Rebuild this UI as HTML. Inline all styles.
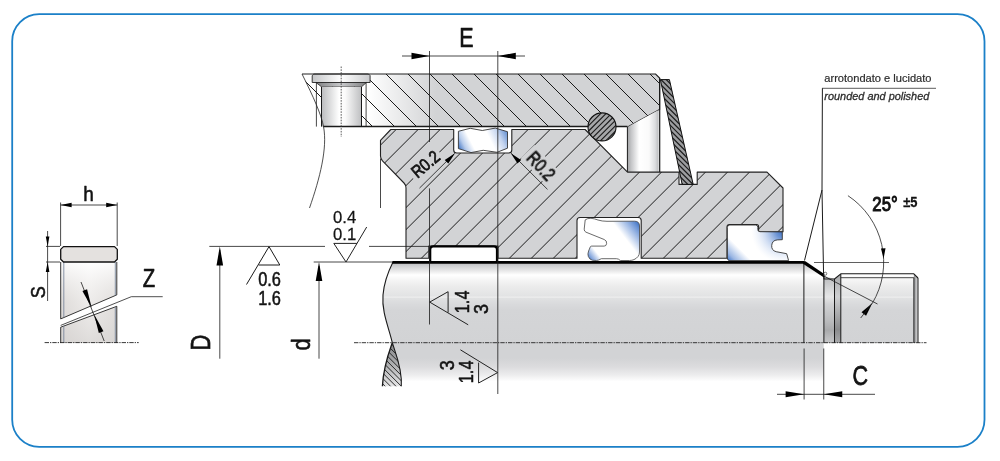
<!DOCTYPE html>
<html lang="it"><head><meta charset="utf-8"><title>Guide ring housing</title>
<style>
html,body{margin:0;padding:0;background:#fff;}
body{width:1000px;height:461px;overflow:hidden;font-family:"Liberation Sans", "DejaVu Sans", sans-serif;}
svg{display:block;}
</style></head><body>
<svg width="1000" height="461" viewBox="0 0 1000 461" font-family='&quot;Liberation Sans&quot;, &quot;DejaVu Sans&quot;, sans-serif'>
<defs>
<linearGradient id="gHouse" gradientUnits="userSpaceOnUse" x1="368" y1="0" x2="436" y2="0">
 <stop offset="0" stop-color="#ffffff"/><stop offset="1" stop-color="#d2d3d5"/></linearGradient>
<linearGradient id="gShaft" gradientUnits="userSpaceOnUse" x1="0" y1="264" x2="0" y2="382">
 <stop offset="0" stop-color="#c2c3c5"/>
 <stop offset="0.017" stop-color="#cfd0d2"/>
 <stop offset="0.05" stop-color="#e3e3e4"/>
 <stop offset="0.093" stop-color="#ffffff"/>
 <stop offset="0.136" stop-color="#f5f5f5"/>
 <stop offset="0.186" stop-color="#ececec"/>
 <stop offset="0.271" stop-color="#e2e3e4"/>
 <stop offset="0.281" stop-color="#eeeeee"/>
 <stop offset="0.292" stop-color="#e0e1e2"/>
 <stop offset="0.34" stop-color="#d9dadc"/>
 <stop offset="0.39" stop-color="#d4d5d7"/>
 <stop offset="0.67" stop-color="#d2d3d5"/>
 <stop offset="0.797" stop-color="#d2d3d5"/>
 <stop offset="0.873" stop-color="#dcdcde"/>
 <stop offset="0.938" stop-color="#ececed"/>
 <stop offset="0.996" stop-color="#ffffff"/></linearGradient>
<linearGradient id="gLens" gradientUnits="userSpaceOnUse" x1="0" y1="343" x2="0" y2="386">
 <stop offset="0" stop-color="#858688"/><stop offset="0.45" stop-color="#a9aaac"/><stop offset="1" stop-color="#e4e4e5"/></linearGradient>
<linearGradient id="gGroove" gradientUnits="userSpaceOnUse" x1="0" y1="279" x2="0" y2="343">
 <stop offset="0" stop-color="#bfc0c2"/><stop offset="0.17" stop-color="#d8d9da"/><stop offset="0.28" stop-color="#e6e6e7"/><stop offset="0.4" stop-color="#d0d1d3"/><stop offset="0.64" stop-color="#bcbdbf"/><stop offset="0.8" stop-color="#a9aaac"/><stop offset="0.92" stop-color="#bcbdbf"/><stop offset="1" stop-color="#c6c7c9"/></linearGradient>
<linearGradient id="gGroove2" gradientUnits="userSpaceOnUse" x1="0" y1="275" x2="0" y2="343">
 <stop offset="0" stop-color="#a9aaac"/><stop offset="0.32" stop-color="#cfd0d2"/><stop offset="0.5" stop-color="#b4b5b7"/><stop offset="0.8" stop-color="#8a8b8d"/><stop offset="1" stop-color="#a9aaac"/></linearGradient>
<linearGradient id="gThrEnd" gradientUnits="userSpaceOnUse" x1="913.85" y1="0" x2="918" y2="0">
 <stop offset="0" stop-color="#8a8b8d"/><stop offset="1" stop-color="#e2e2e3"/></linearGradient>
<linearGradient id="gBore" gradientUnits="userSpaceOnUse" x1="627.5" y1="0" x2="660" y2="0">
 <stop offset="0" stop-color="#a3a4a6"/><stop offset="0.12" stop-color="#c6c7c9"/><stop offset="0.36" stop-color="#ffffff"/><stop offset="0.66" stop-color="#fafafa"/><stop offset="0.85" stop-color="#dcdddf"/><stop offset="0.96" stop-color="#b9babc"/></linearGradient>
<linearGradient id="gHole" gradientUnits="userSpaceOnUse" x1="321" y1="0" x2="361.2" y2="0">
 <stop offset="0" stop-color="#b9babc"/><stop offset="0.45" stop-color="#ffffff"/><stop offset="0.6" stop-color="#fbfbfb"/><stop offset="1" stop-color="#bfc0c2"/></linearGradient>
<linearGradient id="gCap" gradientUnits="userSpaceOnUse" x1="312" y1="0" x2="370.5" y2="0">
 <stop offset="0" stop-color="#c4c5c7"/><stop offset="0.5" stop-color="#ffffff"/><stop offset="1" stop-color="#c9cacc"/></linearGradient>
<linearGradient id="gRing" gradientUnits="userSpaceOnUse" x1="60.5" y1="0" x2="117.5" y2="0">
 <stop offset="0" stop-color="#d9d6d4"/><stop offset="0.5" stop-color="#ffffff"/><stop offset="1" stop-color="#dedbd9"/></linearGradient>
<linearGradient id="gRingV" gradientUnits="userSpaceOnUse" x1="0" y1="262" x2="0" y2="343">
 <stop offset="0" stop-color="#ffffff" stop-opacity="0.9"/><stop offset="0.5" stop-color="#e2dfdd" stop-opacity="0.6"/><stop offset="1" stop-color="#d6d3d1" stop-opacity="0.8"/></linearGradient>
<linearGradient id="gSeal" gradientUnits="userSpaceOnUse" x1="587" y1="262" x2="640.5" y2="220.5">
 <stop offset="0.03" stop-color="#3a6fc3"/><stop offset="0.1" stop-color="#8eade0"/><stop offset="0.2" stop-color="#ffffff"/><stop offset="0.66" stop-color="#ffffff"/><stop offset="0.8" stop-color="#a9c1e8"/><stop offset="0.9" stop-color="#6a93d5"/><stop offset="0.98" stop-color="#2f66bd"/></linearGradient>
<linearGradient id="gWiperA" gradientUnits="userSpaceOnUse" x1="727" y1="262" x2="740" y2="249">
 <stop offset="0.05" stop-color="#3a6fc3"/><stop offset="0.4" stop-color="#9db8e4"/><stop offset="1" stop-color="#ffffff"/></linearGradient>
<radialGradient id="gWiperB" gradientUnits="userSpaceOnUse" cx="784" cy="230.5" r="33">
 <stop offset="0" stop-color="#2f66bd" stop-opacity="1"/><stop offset="0.25" stop-color="#5d89d0" stop-opacity="0.9"/><stop offset="0.6" stop-color="#a9c1e8" stop-opacity="0.55"/><stop offset="1" stop-color="#dbe5f6" stop-opacity="0"/></radialGradient>
<linearGradient id="gTaper" gradientUnits="userSpaceOnUse" x1="316" y1="0" x2="366" y2="0">
 <stop offset="0" stop-color="#7f8082"/><stop offset="0.5" stop-color="#c9cacc"/><stop offset="1" stop-color="#808183"/></linearGradient>
<linearGradient id="gSeal2" gradientUnits="userSpaceOnUse" x1="458" y1="153" x2="508" y2="128">
 <stop offset="0.04" stop-color="#3b70c3"/><stop offset="0.16" stop-color="#b9cdec"/><stop offset="0.3" stop-color="#ffffff"/><stop offset="0.62" stop-color="#ffffff"/><stop offset="0.8" stop-color="#c4d4ef"/><stop offset="1" stop-color="#4c7fca"/></linearGradient>
<clipPath id="cHouse"><path d="M302,74 L655.6,74 L659.6,78 L659.6,109.5 L627.5,127 L323.6,127 C321.5,115 313.5,97 302,74 Z"/></clipPath>
<clipPath id="cGland"><path d="M390.8,129.5 L453.7,129.5 L453.7,150 Q453.7,153 456.7,153 L508.8,153 Q511.8,153 511.8,150 L511.8,129.5 L585.1,129.5 L627.5,172.1 L679,172.1 L679,184.4 L697.2,184.4 L697.2,172.1 L767,172.1 L783,188 L783,231.8 L758.6,231.8 L758.6,226.6 Q758.6,224.6 756.6,224.6 L729.5,224.6 Q727,224.6 727,227 L727,258.2 L641.2,258.2 L641.2,220.5 Q641.2,217.5 638.2,217.5 L580,217.5 Q577,217.5 577,220.5 L577,258.2 L498,258.2 L498,246 L428.8,246 L428.8,258.2 L406,258.2 L406,188 Q406,185 404,183 L382.5,160.8 Q380.5,158.75 380.5,156 L380.5,140.3 Z"/></clipPath>
<clipPath id="cOring"><circle cx="602" cy="126.9" r="14"/></clipPath>
<clipPath id="cPlate"><polygon points="660.4,79.6 669.4,79.6 693.2,184.4 682.2,184.4"/></clipPath>
<clipPath id="cLens"><path d="M392.3,342.7 C395,352 402.5,368 401.3,386.3 L382.4,386.3 C383.5,366 389,352 392.3,342.7 Z"/></clipPath>
</defs>
<rect width="1000" height="461" fill="#ffffff"/>
<rect x="12.2" y="14.2" width="972.3" height="432.6" rx="27" ry="27" fill="none" stroke="#1b80c8" stroke-width="1.8"/>
<path d="M393,262 L803.75,262 L823.9,276 L834.5,279 L840.8,273.8 L913.85,273.8 L918,278 L918,343 L392.3,343 C389,328 381.5,312 383,295 C384,283 389,270 393,262 Z" fill="url(#gShaft)"/>
<path d="M392.3,342.7 L823.75,342.7 L823.75,390 L401,390 L401.3,386.3 C402.5,368 395,352 392.3,342.7 Z" fill="url(#gShaft)"/>
<polygon points="823.9,276 823.9,343 834.5,343 834.5,279 " fill="url(#gGroove)"/>
<polygon points="834.5,279 840.8,273.9 840.8,343 834.5,343" fill="url(#gGroove2)"/>
<polygon points="913.85,274 918,278 918,343 913.85,343" fill="url(#gThrEnd)"/>
<path d="M392.3,342.7 C395,352 402.5,368 401.3,386.3 L382.4,386.3 C383.5,366 389,352 392.3,342.7 Z" fill="url(#gLens)"/>
<g clip-path="url(#cLens)" stroke="#1a1a1a" stroke-width="0.9">
<line x1="375" y1="327.5" x2="410" y2="362.5"/>
<line x1="375" y1="332.9" x2="410" y2="367.9"/>
<line x1="375" y1="338.3" x2="410" y2="373.3"/>
<line x1="375" y1="343.7" x2="410" y2="378.7"/>
<line x1="375" y1="349.1" x2="410" y2="384.1"/>
<line x1="375" y1="354.5" x2="410" y2="389.5"/>
<line x1="375" y1="359.9" x2="410" y2="394.9"/>
<line x1="375" y1="365.3" x2="410" y2="400.3"/>
<line x1="375" y1="370.7" x2="410" y2="405.7"/>
<line x1="375" y1="376.1" x2="410" y2="411.1"/>
<line x1="375" y1="381.5" x2="410" y2="416.5"/>
<line x1="375" y1="386.9" x2="410" y2="421.9"/>
<line x1="375" y1="392.3" x2="410" y2="427.3"/>
<line x1="375" y1="397.7" x2="410" y2="432.7"/>
<line x1="375" y1="403.1" x2="410" y2="438.1"/>
<line x1="375" y1="408.5" x2="410" y2="443.5"/>
</g>
<path d="M393,262 C389,270 384,283 383,295 C381.5,312 389,328 392.3,342.7 C395,352 402.5,368 401.3,386.3" fill="none" stroke="#1a1a1a" stroke-width="1.1"/>
<path d="M392.3,342.7 C389,352 383.5,366 382.4,386.3" fill="none" stroke="#1a1a1a" stroke-width="1.3"/>
<line x1="803.90" y1="264.00" x2="803.90" y2="343.00" stroke="#1a1a1a" stroke-width="1.0" />
<line x1="823.90" y1="276.00" x2="823.90" y2="343.00" stroke="#1a1a1a" stroke-width="1.0" />
<line x1="834.50" y1="279.00" x2="834.50" y2="343.00" stroke="#1a1a1a" stroke-width="1.0" />
<line x1="840.80" y1="274.00" x2="840.80" y2="343.00" stroke="#1a1a1a" stroke-width="1.0" />
<line x1="913.85" y1="277.60" x2="913.85" y2="343.00" stroke="#1a1a1a" stroke-width="0.9" />
<line x1="918.00" y1="278.00" x2="918.00" y2="343.00" stroke="#1a1a1a" stroke-width="1.0" />
<path d="M823.9,276 L823.9,279 L834.5,279 L840.8,273.8 L913.85,273.8 L918,278" fill="none" stroke="#1a1a1a" stroke-width="1.1" stroke-linejoin="round"/>
<line x1="840.80" y1="277.70" x2="913.85" y2="277.70" stroke="#333" stroke-width="0.9" />
<path d="M392.3,262.4 L803.9,262.4" fill="none" stroke="#000" stroke-width="2.8"/>
<polygon points="803,261 805.4,261.2 825,274.6 823.6,277.2 803,263.8" fill="#000"/>
<circle cx="825.3" cy="273.7" r="1.5" fill="#fff" stroke="#222" stroke-width="0.6"/>
<path d="M302,74 L655.6,74 L659.6,78 L659.6,109.5 L627.5,127 L323.6,127 C321.5,115 313.5,97 302,74 Z" fill="url(#gHouse)"/>
<g clip-path="url(#cHouse)" stroke="#1a1a1a" stroke-width="1.0">
<line x1="240.0" y1="60" x2="320.0" y2="140"/>
<line x1="262.0" y1="60" x2="342.0" y2="140"/>
<line x1="284.0" y1="60" x2="364.0" y2="140"/>
<line x1="306.0" y1="60" x2="386.0" y2="140"/>
<line x1="328.0" y1="60" x2="408.0" y2="140"/>
<line x1="350.0" y1="60" x2="430.0" y2="140"/>
<line x1="372.0" y1="60" x2="452.0" y2="140"/>
<line x1="394.0" y1="60" x2="474.0" y2="140"/>
<line x1="416.0" y1="60" x2="496.0" y2="140"/>
<line x1="438.0" y1="60" x2="518.0" y2="140"/>
<line x1="460.0" y1="60" x2="540.0" y2="140"/>
<line x1="482.0" y1="60" x2="562.0" y2="140"/>
<line x1="504.0" y1="60" x2="584.0" y2="140"/>
<line x1="526.0" y1="60" x2="606.0" y2="140"/>
<line x1="548.0" y1="60" x2="628.0" y2="140"/>
<line x1="570.0" y1="60" x2="650.0" y2="140"/>
<line x1="592.0" y1="60" x2="672.0" y2="140"/>
<line x1="614.0" y1="60" x2="694.0" y2="140"/>
<line x1="636.0" y1="60" x2="716.0" y2="140"/>
<line x1="658.0" y1="60" x2="738.0" y2="140"/>
<line x1="680.0" y1="60" x2="760.0" y2="140"/>
<line x1="702.0" y1="60" x2="782.0" y2="140"/>
<line x1="724.0" y1="60" x2="804.0" y2="140"/>
<line x1="746.0" y1="60" x2="826.0" y2="140"/>
<line x1="768.0" y1="60" x2="848.0" y2="140"/>
<line x1="790.0" y1="60" x2="870.0" y2="140"/>
</g>
<path d="M312.2,75.6 L313.8,74 L368.5,74 L370.1,75.6 L370.1,82.5 L312.2,82.5 Z" fill="url(#gCap)" stroke="#222" stroke-width="0.9"/>
<polygon points="316,82.5 366.4,82.5 361.5,86.8 321.5,86.8" fill="url(#gTaper)" stroke="#222" stroke-width="0.8"/>
<rect x="321.5" y="86.8" width="40" height="39.9" fill="url(#gHole)"/>
<line x1="316.40" y1="82.60" x2="316.40" y2="126.60" stroke="#1a1a1a" stroke-width="0.8" />
<line x1="366.10" y1="82.60" x2="366.10" y2="126.60" stroke="#1a1a1a" stroke-width="0.8" />
<line x1="321.50" y1="86.80" x2="321.50" y2="126.60" stroke="#1a1a1a" stroke-width="1.0" />
<line x1="361.50" y1="86.80" x2="361.50" y2="126.60" stroke="#1a1a1a" stroke-width="1.0" />
<g stroke="#1a1a1a" stroke-width="0.8">
</g>
<path d="M302,74 L655.6,74 L659.6,78 L659.6,109.5 L627.5,127" fill="none" stroke="#222" stroke-width="1.1"/>
<line x1="323.40" y1="126.60" x2="627.50" y2="126.60" stroke="#1a1a1a" stroke-width="1.5" />
<path d="M302,74 C313.5,97 321.5,115 323.6,127 C327.5,148 320,178 309.5,208" fill="none" stroke="#222" stroke-width="0.8"/>
<line x1="341.20" y1="66.50" x2="341.20" y2="137.00" stroke="#333" stroke-width="0.8" stroke-dasharray="1.6 1.2"/>
<polygon points="627.5,127 658.6,110 658.6,172.1 627.5,172.1" fill="url(#gBore)"/>
<line x1="627.40" y1="127.00" x2="627.40" y2="172.10" stroke="#1a1a1a" stroke-width="1.0" />
<line x1="659.70" y1="78.00" x2="659.70" y2="172.10" stroke="#1a1a1a" stroke-width="1.2" />
<path d="M390.8,129.5 L453.7,129.5 L453.7,150 Q453.7,153 456.7,153 L508.8,153 Q511.8,153 511.8,150 L511.8,129.5 L585.1,129.5 L627.5,172.1 L679,172.1 L679,184.4 L697.2,184.4 L697.2,172.1 L767,172.1 L783,188 L783,231.8 L758.6,231.8 L758.6,226.6 Q758.6,224.6 756.6,224.6 L729.5,224.6 Q727,224.6 727,227 L727,258.2 L641.2,258.2 L641.2,220.5 Q641.2,217.5 638.2,217.5 L580,217.5 Q577,217.5 577,220.5 L577,258.2 L498,258.2 L498,246 L428.8,246 L428.8,258.2 L406,258.2 L406,188 Q406,185 404,183 L382.5,160.8 Q380.5,158.75 380.5,156 L380.5,140.3 Z" fill="#d2d3d5"/>
<g clip-path="url(#cGland)" stroke="#1a1a1a" stroke-width="1.0">
<line x1="227.6" y1="100" x2="47.6" y2="280"/>
<line x1="249.6" y1="100" x2="69.6" y2="280"/>
<line x1="271.6" y1="100" x2="91.6" y2="280"/>
<line x1="293.6" y1="100" x2="113.6" y2="280"/>
<line x1="315.6" y1="100" x2="135.6" y2="280"/>
<line x1="337.6" y1="100" x2="157.6" y2="280"/>
<line x1="359.6" y1="100" x2="179.6" y2="280"/>
<line x1="381.6" y1="100" x2="201.6" y2="280"/>
<line x1="403.6" y1="100" x2="223.6" y2="280"/>
<line x1="425.6" y1="100" x2="245.6" y2="280"/>
<line x1="447.6" y1="100" x2="267.6" y2="280"/>
<line x1="469.6" y1="100" x2="289.6" y2="280"/>
<line x1="491.6" y1="100" x2="311.6" y2="280"/>
<line x1="513.6" y1="100" x2="333.6" y2="280"/>
<line x1="535.6" y1="100" x2="355.6" y2="280"/>
<line x1="557.6" y1="100" x2="377.6" y2="280"/>
<line x1="579.6" y1="100" x2="399.6" y2="280"/>
<line x1="601.6" y1="100" x2="421.6" y2="280"/>
<line x1="623.6" y1="100" x2="443.6" y2="280"/>
<line x1="645.6" y1="100" x2="465.6" y2="280"/>
<line x1="667.6" y1="100" x2="487.6" y2="280"/>
<line x1="689.6" y1="100" x2="509.6" y2="280"/>
<line x1="711.6" y1="100" x2="531.6" y2="280"/>
<line x1="733.6" y1="100" x2="553.6" y2="280"/>
<line x1="755.6" y1="100" x2="575.6" y2="280"/>
<line x1="777.6" y1="100" x2="597.6" y2="280"/>
<line x1="799.6" y1="100" x2="619.6" y2="280"/>
<line x1="821.6" y1="100" x2="641.6" y2="280"/>
<line x1="843.6" y1="100" x2="663.6" y2="280"/>
<line x1="865.6" y1="100" x2="685.6" y2="280"/>
<line x1="887.6" y1="100" x2="707.6" y2="280"/>
<line x1="909.6" y1="100" x2="729.6" y2="280"/>
</g>
<path d="M390.8,129.5 L453.7,129.5 L453.7,150 Q453.7,153 456.7,153 L508.8,153 Q511.8,153 511.8,150 L511.8,129.5 L585.1,129.5 L627.5,172.1 L679,172.1 L679,184.4 L697.2,184.4 L697.2,172.1 L767,172.1 L783,188 L783,231.8 L758.6,231.8 L758.6,226.6 Q758.6,224.6 756.6,224.6 L729.5,224.6 Q727,224.6 727,227 L727,258.2 L641.2,258.2 L641.2,220.5 Q641.2,217.5 638.2,217.5 L580,217.5 Q577,217.5 577,220.5 L577,258.2 L498,258.2 L498,246 L428.8,246 L428.8,258.2 L406,258.2 L406,188 Q406,185 404,183 L382.5,160.8 Q380.5,158.75 380.5,156 L380.5,140.3 Z" fill="none" stroke="#222" stroke-width="1.1" stroke-linejoin="round"/>
<path d="M458.4,131.3 L470.2,128.3 L482.3,130.5 L495.3,128.1 L507.5,131.7 L507.5,148.2 L497.1,152.3 L483.2,150.3 L471,152.6 L458.4,148.6 Z" fill="url(#gSeal2)" stroke="#333" stroke-width="0.9" stroke-linejoin="round"/>
<path d="M430.2,262 L430.2,249.4 Q430.2,246.4 433.2,246.4 L494,246.4 Q497,246.4 497,249.4 L497,262 Z" fill="#ffffff" stroke="#000" stroke-width="2.2"/>
<path d="M585.2,219.9 Q587.3,218.2 590.9,218.3 Q594.5,218.6 598,220 Q602,221.3 607,221.3 L634.6,221.2 Q639.5,221.2 639.5,226 L639.5,252 Q639.5,257 634,259.6 Q632,260.5 629.5,260.5 L620.3,260.5 Q618.5,258.7 616.5,258.7 L601.3,258.7 Q598.5,260.5 596.5,260.5 L592.5,260.3 Q589.5,259.6 588.3,256.4 Q587.4,254 588.6,251 L590.3,246.8 Q590.6,246.1 591.6,246.1 L604.2,246.1 Q606.3,246.1 606.6,243.6 Q607,240.6 604.2,239.5 L586,232.2 Q584.2,231.4 584.2,229.2 Z" fill="url(#gSeal)" stroke="#444" stroke-width="0.8"/>
<path d="M727.4,258 L727.4,227.4 Q727.4,225 729.8,225 L755.4,225 Q757.8,225 757.8,227.2 L757.8,229.6 Q757.8,231.7 760,231.7 L782.3,231.9 L782.3,239.7 L777.3,239.9 A6,6 0 0 0 776.2,251.7 L786.7,253.7 L788.6,260.6 L729,260.6 Q727.4,260 727.4,258 Z" fill="url(#gWiperA)"/>
<path d="M727.4,258 L727.4,227.4 Q727.4,225 729.8,225 L755.4,225 Q757.8,225 757.8,227.2 L757.8,229.6 Q757.8,231.7 760,231.7 L782.3,231.9 L782.3,239.7 L777.3,239.9 A6,6 0 0 0 776.2,251.7 L786.7,253.7 L788.6,260.6 L729,260.6 Q727.4,260 727.4,258 Z" fill="url(#gWiperB)" stroke="#333" stroke-width="0.9" stroke-linejoin="round"/>
<circle cx="602" cy="126.9" r="14" fill="#a6a7a9"/>
<g clip-path="url(#cOring)" stroke="#1a1a1a" stroke-width="1.1">
<line x1="587.2" y1="100" x2="527.2" y2="160"/>
<line x1="592.6" y1="100" x2="532.6" y2="160"/>
<line x1="598.0" y1="100" x2="538.0" y2="160"/>
<line x1="603.4" y1="100" x2="543.4" y2="160"/>
<line x1="608.8" y1="100" x2="548.8" y2="160"/>
<line x1="614.2" y1="100" x2="554.2" y2="160"/>
<line x1="619.6" y1="100" x2="559.6" y2="160"/>
<line x1="625.0" y1="100" x2="565.0" y2="160"/>
<line x1="630.4" y1="100" x2="570.4" y2="160"/>
<line x1="635.8" y1="100" x2="575.8" y2="160"/>
<line x1="641.2" y1="100" x2="581.2" y2="160"/>
<line x1="646.6" y1="100" x2="586.6" y2="160"/>
<line x1="652.0" y1="100" x2="592.0" y2="160"/>
<line x1="657.4" y1="100" x2="597.4" y2="160"/>
<line x1="662.8" y1="100" x2="602.8" y2="160"/>
<line x1="668.2" y1="100" x2="608.2" y2="160"/>
<line x1="673.6" y1="100" x2="613.6" y2="160"/>
</g>
<circle cx="602" cy="126.9" r="14" fill="none" stroke="#111" stroke-width="1.1"/>
<polygon points="660.4,79.6 669.4,79.6 693.2,184.4 682.2,184.4" fill="#9c9d9f"/>
<g clip-path="url(#cPlate)" stroke="#1a1a1a" stroke-width="1.2">
<line x1="655" y1="58.0" x2="700" y2="103.0"/>
<line x1="655" y1="63.2" x2="700" y2="108.2"/>
<line x1="655" y1="68.4" x2="700" y2="113.4"/>
<line x1="655" y1="73.6" x2="700" y2="118.6"/>
<line x1="655" y1="78.8" x2="700" y2="123.8"/>
<line x1="655" y1="84.0" x2="700" y2="129.0"/>
<line x1="655" y1="89.2" x2="700" y2="134.2"/>
<line x1="655" y1="94.4" x2="700" y2="139.4"/>
<line x1="655" y1="99.6" x2="700" y2="144.6"/>
<line x1="655" y1="104.8" x2="700" y2="149.8"/>
<line x1="655" y1="110.0" x2="700" y2="155.0"/>
<line x1="655" y1="115.2" x2="700" y2="160.2"/>
<line x1="655" y1="120.4" x2="700" y2="165.4"/>
<line x1="655" y1="125.6" x2="700" y2="170.6"/>
<line x1="655" y1="130.8" x2="700" y2="175.8"/>
<line x1="655" y1="136.0" x2="700" y2="181.0"/>
<line x1="655" y1="141.2" x2="700" y2="186.2"/>
<line x1="655" y1="146.4" x2="700" y2="191.4"/>
<line x1="655" y1="151.6" x2="700" y2="196.6"/>
<line x1="655" y1="156.8" x2="700" y2="201.8"/>
<line x1="655" y1="162.0" x2="700" y2="207.0"/>
<line x1="655" y1="167.2" x2="700" y2="212.2"/>
<line x1="655" y1="172.4" x2="700" y2="217.4"/>
<line x1="655" y1="177.6" x2="700" y2="222.6"/>
<line x1="655" y1="182.8" x2="700" y2="227.8"/>
<line x1="655" y1="188.0" x2="700" y2="233.0"/>
<line x1="655" y1="193.2" x2="700" y2="238.2"/>
<line x1="655" y1="198.4" x2="700" y2="243.4"/>
<line x1="655" y1="203.6" x2="700" y2="248.6"/>
<line x1="655" y1="208.8" x2="700" y2="253.8"/>
<line x1="655" y1="214.0" x2="700" y2="259.0"/>
<line x1="655" y1="219.2" x2="700" y2="264.2"/>
<line x1="655" y1="224.4" x2="700" y2="269.4"/>
<line x1="655" y1="229.6" x2="700" y2="274.6"/>
<line x1="655" y1="234.8" x2="700" y2="279.8"/>
<line x1="655" y1="240.0" x2="700" y2="285.0"/>
<line x1="655" y1="245.2" x2="700" y2="290.2"/>
<line x1="655" y1="250.4" x2="700" y2="295.4"/>
<line x1="655" y1="255.6" x2="700" y2="300.6"/>
<line x1="655" y1="260.8" x2="700" y2="305.8"/>
</g>
<polygon points="660.4,79.6 669.4,79.6 693.2,184.4 682.2,184.4" fill="none" stroke="#111" stroke-width="1.0"/>
<line x1="354.00" y1="342.70" x2="926.50" y2="342.70" stroke="#222" stroke-width="0.9" stroke-dasharray="4.4 1 1.3 1"/>
<line x1="402.00" y1="56.00" x2="525.00" y2="56.00" stroke="#1a1a1a" stroke-width="0.8" />
<polygon points="429.50,56.00 411.50,59.20 411.50,52.80" fill="#000"/>
<polygon points="497.80,56.00 515.80,52.80 515.80,59.20" fill="#000"/>
<line x1="429.50" y1="51.00" x2="429.50" y2="142.00" stroke="#1a1a1a" stroke-width="0.8" />
<line x1="429.50" y1="188.40" x2="429.50" y2="324.50" stroke="#1a1a1a" stroke-width="0.8" />
<line x1="497.80" y1="51.00" x2="497.80" y2="394.00" stroke="#1a1a1a" stroke-width="0.8" />
<g transform="translate(417.4,178.8) rotate(-40)"><rect x="-3" y="-15" width="37" height="18" fill="#d2d3d5"/></g>
<line x1="419.50" y1="188.10" x2="454.60" y2="153.40" stroke="#1a1a1a" stroke-width="0.8" />
<polygon points="455.00,153.20 448.28,163.45 444.75,159.92" fill="#000"/>
<g transform="translate(525.6,158.8) rotate(47)"><rect x="-4" y="-16" width="39" height="19" fill="#d2d3d5"/></g>
<line x1="511.20" y1="153.20" x2="547.50" y2="189.40" stroke="#1a1a1a" stroke-width="0.8" />
<polygon points="510.80,153.20 521.05,159.92 517.52,163.45" fill="#000"/>
<line x1="209.30" y1="246.40" x2="325.00" y2="246.40" stroke="#1a1a1a" stroke-width="0.8" />
<line x1="369.00" y1="246.40" x2="429.00" y2="246.40" stroke="#1a1a1a" stroke-width="0.8" />
<line x1="313.70" y1="262.00" x2="392.00" y2="262.00" stroke="#1a1a1a" stroke-width="0.8" />
<line x1="219.80" y1="250.00" x2="219.80" y2="358.70" stroke="#1a1a1a" stroke-width="0.8" />
<polygon points="219.80,246.40 223.10,265.40 216.50,265.40" fill="#000"/>
<line x1="319.00" y1="266.00" x2="319.00" y2="358.70" stroke="#1a1a1a" stroke-width="0.8" />
<polygon points="319.00,262.00 322.30,281.00 315.70,281.00" fill="#000"/>
<line x1="380.50" y1="158.75" x2="380.50" y2="208.00" stroke="#1a1a1a" stroke-width="0.8" />
<path d="M246.5,284.5 L269,246.6 L279.8,265 L258.7,265" fill="none" stroke="#1a1a1a" stroke-width="1.0"/>
<path d="M366.7,227 L346,262 L333.8,243.4 L357,243.4" fill="none" stroke="#222" stroke-width="1.0"/>
<path d="M468.2,324.8 L429.7,302.1 L448.1,291.7 L448.1,312.5" fill="none" stroke="#222" stroke-width="1.0"/>
<path d="M460.4,349.8 L497.6,372.6 L478.6,383 L478.6,362.6" fill="none" stroke="#222" stroke-width="1.0"/>
<line x1="822.00" y1="88.30" x2="936.00" y2="88.30" stroke="#333" stroke-width="0.8" />
<path d="M822.4,88.3 L822,190 L823.6,276" fill="none" stroke="#1a1a1a" stroke-width="1.0"/>
<line x1="822.00" y1="190.00" x2="804.50" y2="260.50" stroke="#1a1a1a" stroke-width="1.0" />
<line x1="814.00" y1="262.50" x2="889.00" y2="262.50" stroke="#1a1a1a" stroke-width="0.7" />
<line x1="823.75" y1="276.00" x2="877.50" y2="304.00" stroke="#1a1a1a" stroke-width="0.8" />
<path d="M847.94,195.66 A79.8,79.8 0 0 1 872.44,303.06" fill="none" stroke="#222" stroke-width="0.8"/>
<polygon points="883.60,258.40 880.95,248.49 885.55,248.33" fill="#000"/>
<polygon points="872.40,303.00 866.07,315.82 861.50,312.25" fill="#000"/>
<line x1="872.40" y1="303.00" x2="860.70" y2="317.97" stroke="#1a1a1a" stroke-width="0.8" />
<line x1="804.10" y1="348.50" x2="804.10" y2="399.50" stroke="#1a1a1a" stroke-width="0.8" />
<line x1="823.75" y1="348.50" x2="823.75" y2="399.50" stroke="#1a1a1a" stroke-width="0.8" />
<line x1="777.00" y1="394.30" x2="875.00" y2="394.30" stroke="#1a1a1a" stroke-width="0.8" />
<polygon points="804.10,394.30 785.60,397.30 785.60,391.30" fill="#000"/>
<polygon points="823.75,394.30 842.25,391.30 842.25,397.30" fill="#000"/>
<polygon points="60.7,262 116.8,262 116.8,294.9 60.7,318.9" fill="url(#gRing)"/>
<polygon points="60.7,327.2 116.8,306.3 116.8,343 60.7,343" fill="url(#gRing)"/>
<polygon points="60.7,262 116.8,262 116.8,294.9 60.7,318.9" fill="url(#gRingV)"/>
<polygon points="60.7,327.2 116.8,306.3 116.8,343 60.7,343" fill="url(#gRingV)"/>
<path d="M60.7,262 L60.7,318.9 L116.8,294.9 L116.8,262" fill="none" stroke="#222" stroke-width="0.9"/>
<path d="M60.7,343 L60.7,327.2 L116.8,306.3 L116.8,343" fill="none" stroke="#222" stroke-width="0.9"/>
<line x1="63.80" y1="262.00" x2="63.80" y2="317.40" stroke="#6f7c93" stroke-width="0.8" />
<line x1="63.80" y1="326.20" x2="63.80" y2="343.00" stroke="#6f7c93" stroke-width="0.8" />
<line x1="115.30" y1="262.00" x2="115.30" y2="295.40" stroke="#6f7c93" stroke-width="0.8" />
<line x1="115.30" y1="307.00" x2="115.30" y2="343.00" stroke="#6f7c93" stroke-width="0.8" />
<path d="M60.7,325.4 L131.3,296.7 L162.7,296.7" fill="none" stroke="#222" stroke-width="0.8"/>
<path d="M63.5,246.6 L114.5,246.6 L117.3,249.4 L117.3,259.2 L114.5,262 L63.5,262 L60.7,259.2 L60.7,249.4 Z" fill="#e4e1df" stroke="#111" stroke-width="1.3" stroke-linejoin="round"/>
<line x1="60.60" y1="202.50" x2="60.60" y2="246.00" stroke="#1a1a1a" stroke-width="0.8" />
<line x1="117.20" y1="202.50" x2="117.20" y2="246.00" stroke="#1a1a1a" stroke-width="0.8" />
<line x1="60.60" y1="205.00" x2="117.20" y2="205.00" stroke="#1a1a1a" stroke-width="0.8" />
<polygon points="60.60,205.00 71.60,202.80 71.60,207.20" fill="#000"/>
<polygon points="117.20,205.00 106.20,207.20 106.20,202.80" fill="#000"/>
<line x1="46.00" y1="246.40" x2="60.00" y2="246.40" stroke="#1a1a1a" stroke-width="0.8" />
<line x1="46.00" y1="262.00" x2="60.00" y2="262.00" stroke="#1a1a1a" stroke-width="0.8" />
<line x1="47.60" y1="231.00" x2="47.60" y2="262.00" stroke="#1a1a1a" stroke-width="0.8" />
<polygon points="47.60,246.40 45.80,236.40 49.40,236.40" fill="#000"/>
<line x1="47.60" y1="262.00" x2="47.60" y2="301.00" stroke="#1a1a1a" stroke-width="0.8" />
<polygon points="47.60,262.00 49.40,272.00 45.80,272.00" fill="#000"/>
<line x1="81.00" y1="282.00" x2="104.20" y2="341.00" stroke="#1a1a1a" stroke-width="0.8" />
<polygon points="91.70,307.80 82.42,291.03 87.07,289.20" fill="#000"/>
<polygon points="94.20,314.40 103.48,331.17 98.83,333.00" fill="#000"/>
<line x1="44.60" y1="342.60" x2="138.70" y2="342.60" stroke="#222" stroke-width="0.9" stroke-dasharray="4.4 1 1.3 1"/>
<g opacity="0.99">
<text transform="translate(466.40,47.30) scale(0.8,1)" font-size="26.8" text-anchor="middle" font-weight="normal" font-style="normal" fill="#111"  stroke="#111" stroke-width="0.72" stroke-linejoin="round">E</text>
<text transform="translate(417.40,178.80) rotate(-40) scale(0.84,1)" font-size="17.5" text-anchor="start" font-weight="normal" font-style="normal" fill="#111"  stroke="#111" stroke-width="0.75" stroke-linejoin="round">R0.2</text>
<text transform="translate(525.60,158.80) rotate(47) scale(0.86,1)" font-size="17.5" text-anchor="start" font-weight="normal" font-style="normal" fill="#111"  stroke="#111" stroke-width="0.75" stroke-linejoin="round">R0.2</text>
<text transform="translate(210.30,350.60) rotate(-90) scale(0.78,1)" font-size="28" text-anchor="start" font-weight="normal" font-style="normal" fill="#111"  stroke="#111" stroke-width="0.76" stroke-linejoin="round">D</text>
<text transform="translate(310.20,350.50) rotate(-90) scale(0.86,1)" font-size="25.6" text-anchor="start" font-weight="normal" font-style="normal" fill="#111"  stroke="#111" stroke-width="0.69" stroke-linejoin="round">d</text>
<text transform="translate(258.20,285.60) scale(0.82,1)" font-size="20" text-anchor="start" font-weight="normal" font-style="normal" fill="#111"  stroke="#111" stroke-width="0.54" stroke-linejoin="round">0.6</text>
<text transform="translate(258.20,304.70) scale(0.82,1)" font-size="20" text-anchor="start" font-weight="normal" font-style="normal" fill="#111"  stroke="#111" stroke-width="0.54" stroke-linejoin="round">1.6</text>
<text transform="translate(333.00,222.80) scale(0.96,1)" font-size="17.4" text-anchor="start" font-weight="normal" font-style="normal" fill="#111"  stroke="#111" stroke-width="0.25" stroke-linejoin="round">0.4</text>
<text transform="translate(333.00,239.80) scale(0.96,1)" font-size="17.4" text-anchor="start" font-weight="normal" font-style="normal" fill="#111"  stroke="#111" stroke-width="0.25" stroke-linejoin="round">0.1</text>
<text transform="translate(468.60,313.20) rotate(-90) scale(0.8,1)" font-size="20.4" text-anchor="start" font-weight="normal" font-style="normal" fill="#111"  stroke="#111" stroke-width="0.55" stroke-linejoin="round">1.4</text>
<text transform="translate(488.20,314.00) rotate(-90) scale(0.88,1)" font-size="20.4" text-anchor="start" font-weight="normal" font-style="normal" fill="#111"  stroke="#111" stroke-width="0.55" stroke-linejoin="round">3</text>
<text transform="translate(453.60,370.30) rotate(-90) scale(0.88,1)" font-size="20.4" text-anchor="start" font-weight="normal" font-style="normal" fill="#111"  stroke="#111" stroke-width="0.55" stroke-linejoin="round">3</text>
<text transform="translate(473.00,383.20) rotate(-90) scale(0.8,1)" font-size="20.4" text-anchor="start" font-weight="normal" font-style="normal" fill="#111"  stroke="#111" stroke-width="0.55" stroke-linejoin="round">1.4</text>
<text transform="translate(824.30,81.70)" font-size="11.3" text-anchor="start" font-weight="normal" font-style="normal" fill="#2a2a2a" textLength="107.2" lengthAdjust="spacingAndGlyphs" stroke="#2a2a2a" stroke-width="0.2" stroke-linejoin="round">arrotondato e lucidato</text>
<text transform="translate(824.30,100.40)" font-size="11.4" text-anchor="start" font-weight="normal" font-style="italic" fill="#2a2a2a" textLength="105" lengthAdjust="spacingAndGlyphs" stroke="#2a2a2a" stroke-width="0.3" stroke-linejoin="round">rounded and polished</text>
<text transform="translate(872.30,210.50) scale(0.82,1)" font-size="20.5" text-anchor="start" font-weight="normal" font-style="normal" fill="#111"  stroke="#111" stroke-width="1.05" stroke-linejoin="round">25°</text>
<text transform="translate(903.30,207.00) scale(0.86,1)" font-size="15" text-anchor="start" font-weight="bold" font-style="normal" fill="#111"  stroke="#111" stroke-width="0.3" stroke-linejoin="round">±5</text>
<text transform="translate(860.30,385.30) scale(0.78,1)" font-size="27.6" text-anchor="middle" font-weight="normal" font-style="normal" fill="#111"  stroke="#111" stroke-width="0.75" stroke-linejoin="round">C</text>
<text transform="translate(149.00,287.00) scale(0.8,1)" font-size="25.4" text-anchor="middle" font-weight="normal" font-style="normal" fill="#111"  stroke="#111" stroke-width="0.69" stroke-linejoin="round">Z</text>
<text transform="translate(88.60,201.30) scale(0.95,1)" font-size="20" text-anchor="middle" font-weight="normal" font-style="normal" fill="#111"  stroke="#111" stroke-width="0.54" stroke-linejoin="round">h</text>
<text transform="translate(45.00,298.20) rotate(-90) scale(0.9,1)" font-size="20" text-anchor="start" font-weight="normal" font-style="normal" fill="#111"  stroke="#111" stroke-width="0.54" stroke-linejoin="round">S</text>
</g>
</svg>
</body></html>
